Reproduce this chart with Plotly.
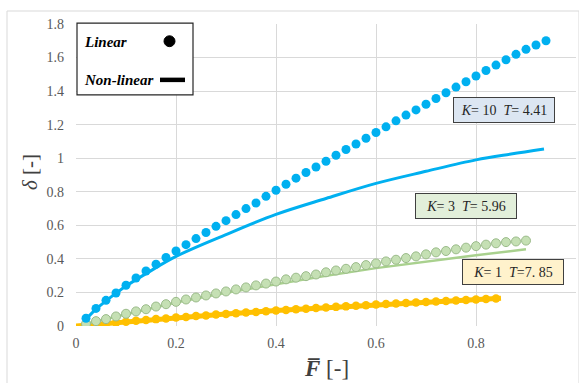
import plotly.graph_objects as go

# ---- data -------------------------------------------------------------
F_step = [round(0.02 * i, 2) for i in range(1, 48)]

# K = 10 (linear model, markers)
k10_lin_F = F_step[:47]
k10_lin_d = [0.046, 0.105, 0.153, 0.197, 0.243, 0.286, 0.328, 0.368, 0.408, 0.447,
             0.485, 0.521, 0.557, 0.594, 0.628, 0.664, 0.700, 0.733, 0.773, 0.809,
             0.845, 0.881, 0.915, 0.948, 0.982, 1.018, 1.052, 1.085, 1.119, 1.153,
             1.187, 1.223, 1.257, 1.288, 1.322, 1.356, 1.390, 1.424, 1.456, 1.490,
             1.523, 1.555, 1.587, 1.619, 1.649, 1.675, 1.700]
# K = 10 (non-linear model, line)
k10_nl_F = [0.02, 0.04, 0.06, 0.08, 0.10, 0.14, 0.20, 0.30, 0.40, 0.50, 0.60, 0.70, 0.80, 0.87, 0.936]
k10_nl_d = [0.040, 0.100, 0.150, 0.195, 0.238, 0.312, 0.415, 0.545, 0.665, 0.760, 0.850, 0.922, 0.990, 1.025, 1.055]

# K = 3
k3_lin_F = F_step[:45]
k3_lin_d = [0.013, 0.029, 0.041, 0.057, 0.073, 0.087, 0.100, 0.116, 0.130, 0.144,
            0.158, 0.170, 0.182, 0.194, 0.206, 0.218, 0.230, 0.242, 0.253, 0.265,
            0.278, 0.288, 0.297, 0.307, 0.320, 0.331, 0.341, 0.351, 0.363, 0.373,
            0.385, 0.395, 0.405, 0.415, 0.427, 0.439, 0.447, 0.457, 0.467, 0.476,
            0.485, 0.493, 0.500, 0.504, 0.509]
k3_nl_F = [0.02, 0.10, 0.20, 0.30, 0.40, 0.50, 0.60, 0.70, 0.80, 0.90]
k3_nl_d = [0.013, 0.070, 0.140, 0.198, 0.250, 0.300, 0.345, 0.385, 0.422, 0.457]

# K = 1
k1_lin_F = F_step[:42]
k1_lin_d = [0.004, 0.009, 0.015, 0.020, 0.026, 0.031, 0.036, 0.041, 0.045, 0.050,
            0.054, 0.059, 0.063, 0.068, 0.072, 0.076, 0.080, 0.084, 0.088, 0.092,
            0.096, 0.100, 0.103, 0.107, 0.110, 0.114, 0.117, 0.121, 0.124, 0.128,
            0.131, 0.134, 0.137, 0.140, 0.143, 0.146, 0.149, 0.152, 0.155, 0.158,
            0.161, 0.164]
k1_nl_F = [0.0, 0.10, 0.20, 0.30, 0.40, 0.50, 0.60, 0.70, 0.80, 0.85]
k1_nl_d = [0.0, 0.026, 0.050, 0.072, 0.092, 0.110, 0.128, 0.143, 0.158, 0.166]

x_ticks = [0, 0.2, 0.4, 0.6, 0.8, 1]
y_ticks = [0, 0.2, 0.4, 0.6, 0.8, 1, 1.2, 1.4, 1.6, 1.8]

BLUE = "#00B0F0"
GREEN_LINE = "#A9D18E"
GREEN_FILL = "#C5E0B4"
GREEN_EDGE = "#9BBB8A"
YELLOW = "#FFC000"
SERIF = "Times New Roman"

fig = go.Figure()

# non-linear curves
fig.add_trace(go.Scatter(x=k1_nl_F, y=k1_nl_d, mode="lines",
                         line=dict(color=YELLOW, width=5), hoverinfo="skip"))
fig.add_trace(go.Scatter(x=k3_nl_F, y=k3_nl_d, mode="lines",
                         line=dict(color=GREEN_LINE, width=2.5), hoverinfo="skip"))
fig.add_trace(go.Scatter(x=k10_nl_F, y=k10_nl_d, mode="lines", line_shape="spline",
                         line=dict(color=BLUE, width=3), hoverinfo="skip"))

# linear model points
fig.add_trace(go.Scatter(x=k1_lin_F, y=k1_lin_d, mode="markers",
                         marker=dict(color=YELLOW, size=8.5, line=dict(width=0))))
fig.add_trace(go.Scatter(x=k3_lin_F, y=k3_lin_d, mode="markers",
                         marker=dict(color=GREEN_FILL, size=9,
                                     line=dict(color=GREEN_EDGE, width=1))))
fig.add_trace(go.Scatter(x=k10_lin_F, y=k10_lin_d, mode="markers",
                         marker=dict(color=BLUE, size=9, line=dict(width=0))))

# parameter labels
def param_box(x, y, k, t, fill):
    fig.add_annotation(
        x=x, y=y, xref="x", yref="y", showarrow=False,
        xanchor="center", yanchor="middle",
        text=f"<i>K</i>= {k}  <i>T</i>={t}",
        font=dict(family=SERIF, size=14, color="#262626"),
        bgcolor=fill, bordercolor="#404040", borderwidth=1, borderpad=0,
        width=100, height=24, align="center", valign="middle")

param_box(0.856, 1.287, "10", " 4.41", "#DCE6F2")
param_box(0.780, 0.715, "3", " 5.96", "#E2EFDA")
param_box(0.874, 0.319, "1", "7. 85", "#FFF2CC")

# legend box
fig.add_shape(type="rect", xref="paper", yref="paper",
              x0=0.002, x1=0.234, y0=0.765, y1=1.003,
              fillcolor="white", line=dict(color="#262626", width=1.2), layer="above")
fig.add_annotation(xref="paper", yref="paper", x=0.012, y=0.940,
                   xanchor="left", yanchor="middle",
                   showarrow=False, text="<b><i>Linear</i></b>",
                   font=dict(family=SERIF, size=15, color="black"))
fig.add_annotation(xref="paper", yref="paper", x=0.012, y=0.815,
                   xanchor="left", yanchor="middle",
                   showarrow=False, text="<b><i>Non-linear</i></b>",
                   font=dict(family=SERIF, size=15, color="black"))
fig.add_shape(type="circle", xref="paper", yref="paper",
              x0=0.176, x1=0.198, y0=0.925, y1=0.961,
              fillcolor="black", line=dict(color="black", width=1), layer="above")
fig.add_shape(type="line", xref="paper", yref="paper",
              x0=0.168, x1=0.218, y0=0.815, y1=0.815,
              line=dict(color="black", width=4.5), layer="above")

# outer chart frame
fig.add_shape(type="rect", xref="paper", yref="paper",
              x0=-0.138, x1=1.006, y0=-0.2, y1=1.043,
              line=dict(color="#D9D9D9", width=1), fillcolor="rgba(0,0,0,0)")

# axis titles
fig.add_annotation(xref="paper", yref="paper", x=-0.092, y=0.51, showarrow=False,
                   xanchor="center", yanchor="middle",
                   text="<i>δ</i> [-]", textangle=-90,
                   font=dict(family=SERIF, size=21, color="#404040"))
fig.add_annotation(xref="paper", yref="paper", x=0.5, y=-0.14, showarrow=False,
                   xanchor="center", yanchor="middle",
                   text="<b><i>F\u0305</i></b> [-]",
                   font=dict(family=SERIF, size=23, color="#404040"))

axis_common = dict(showgrid=True, gridcolor="#D9D9D9", gridwidth=1,
                   zeroline=False, showline=False, ticks="",
                   tickfont=dict(family=SERIF, size=14, color="#595959"))

fig.update_xaxes(range=[0, 1], tickvals=x_ticks, ticktext=[str(v) for v in x_ticks],
                 ticklabelstandoff=7, **axis_common)
fig.update_yaxes(range=[0, 1.8], tickvals=y_ticks, ticktext=[str(v) for v in y_ticks],
                 ticklabelstandoff=11, **axis_common)

fig.update_layout(width=579, height=383, showlegend=False,
                  margin=dict(l=76, r=3, t=24, b=57),
                  paper_bgcolor="white", plot_bgcolor="white")

fig.write_html("out.html")
